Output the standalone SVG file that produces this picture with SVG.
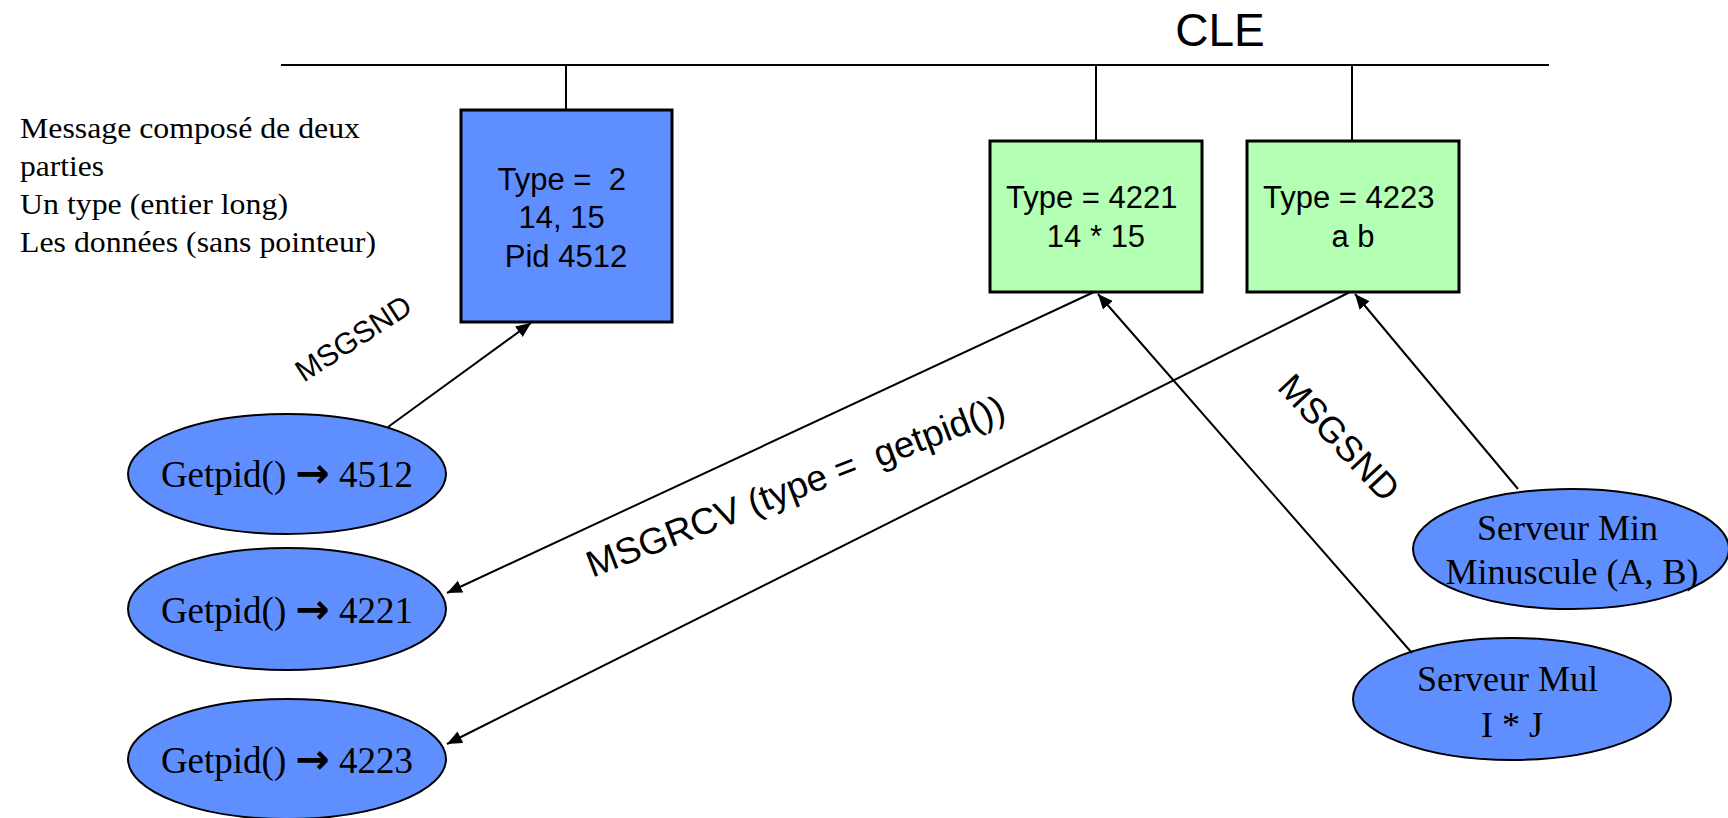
<svg xmlns="http://www.w3.org/2000/svg" width="1728" height="818" viewBox="0 0 1728 818">
  <style>
    .sans { font-family: "Liberation Sans", Arial, sans-serif; fill: #000; }
    .serif { font-family: "Liberation Serif", "Times New Roman", serif; fill: #000; }
    .box-blue { fill: #5F8FFF; stroke: #000; stroke-width: 3; }
    .box-green { fill: #B3FFB3; stroke: #000; stroke-width: 3; }
    .proc { fill: #5F8FFF; stroke: #000; stroke-width: 2; }
    .bus { stroke: #000; stroke-width: 2; fill: none; }
    .edge { stroke: #000; stroke-width: 2; fill: none; marker-end: url(#arrow); }
    .arr { font-family: "DejaVu Sans", sans-serif; font-weight: bold; }
  </style>
  <defs>
    <marker id="arrow" markerUnits="userSpaceOnUse" markerWidth="16" markerHeight="14" refX="15" refY="6.5" orient="auto">
      <path d="M0,0 L15,6.5 L0,13 z" fill="#000"/>
    </marker>
  </defs>

  <rect width="1728" height="818" fill="#fff"/>

  <!-- message queue key and its bus -->
  <g id="cle">
    <text class="sans" x="1220" y="46" font-size="46" text-anchor="middle">CLE</text>
    <line class="bus" x1="281" y1="65" x2="1549" y2="65"/>
    <line class="bus" x1="566" y1="65" x2="566" y2="110"/>
    <line class="bus" x1="1096" y1="65" x2="1096" y2="141"/>
    <line class="bus" x1="1352" y1="65" x2="1352" y2="141"/>
  </g>

  <!-- explanatory note -->
  <g id="note" class="serif" font-size="29">
    <text x="20" y="138" textLength="340" lengthAdjust="spacingAndGlyphs">Message composé de deux</text>
    <text x="20" y="176" textLength="84" lengthAdjust="spacingAndGlyphs">parties</text>
    <text x="20" y="214" textLength="268" lengthAdjust="spacingAndGlyphs">Un type (entier long)</text>
    <text x="20" y="252" textLength="356" lengthAdjust="spacingAndGlyphs">Les données (sans pointeur)</text>
  </g>

  <!-- messages in the queue -->
  <g id="msg-2">
    <rect class="box-blue" x="461" y="110" width="211" height="212"/>
    <text class="sans" font-size="31" text-anchor="middle" x="566">
      <tspan x="566" y="190" xml:space="preserve">Type =  2</tspan>
      <tspan x="566" y="228">14, 15</tspan>
      <tspan x="566" y="267">Pid 4512</tspan>
    </text>
  </g>
  <g id="msg-4221">
    <rect class="box-green" x="990" y="141" width="212" height="151"/>
    <text class="sans" font-size="31" text-anchor="middle">
      <tspan x="1096" y="208">Type = 4221</tspan>
      <tspan x="1096" y="247">14 * 15</tspan>
    </text>
  </g>
  <g id="msg-4223">
    <rect class="box-green" x="1247" y="141" width="212" height="151"/>
    <text class="sans" font-size="31" text-anchor="middle">
      <tspan x="1353" y="208">Type = 4223</tspan>
      <tspan x="1353" y="247">a b</tspan>
    </text>
  </g>

  <!-- client processes -->
  <g id="client-4512">
    <ellipse class="proc" cx="287" cy="474" rx="159" ry="60"/>
    <text class="serif" x="287" y="487" font-size="37" text-anchor="middle">Getpid() <tspan class="arr" font-size="41">→</tspan> 4512</text>
  </g>
  <g id="client-4221">
    <ellipse class="proc" cx="287" cy="609" rx="159" ry="61"/>
    <text class="serif" x="287" y="623" font-size="37" text-anchor="middle">Getpid() <tspan class="arr" font-size="41">→</tspan> 4221</text>
  </g>
  <g id="client-4223">
    <ellipse class="proc" cx="287" cy="759" rx="159" ry="60"/>
    <text class="serif" x="287" y="773" font-size="37" text-anchor="middle">Getpid() <tspan class="arr" font-size="41">→</tspan> 4223</text>
  </g>

  <!-- servers -->
  <g id="serveur-min">
    <ellipse class="proc" cx="1571" cy="549" rx="158" ry="60"/>
    <text class="serif" font-size="36" text-anchor="middle">
      <tspan x="1572" y="540">Serveur Min</tspan>
      <tspan x="1572" y="584">Minuscule (A, B)</tspan>
    </text>
  </g>
  <g id="serveur-mul">
    <ellipse class="proc" cx="1512" cy="699" rx="159" ry="61"/>
    <text class="serif" font-size="36" text-anchor="middle">
      <tspan x="1512" y="691">Serveur Mul</tspan>
      <tspan x="1512" y="737">I * J</tspan>
    </text>
  </g>

  <!-- connectors -->
  <g id="connectors">
    <line class="edge" x1="388" y1="427" x2="531" y2="323"/>
    <line class="edge" x1="1094" y1="292" x2="447" y2="593"/>
    <line class="edge" x1="1350" y1="292" x2="447" y2="744"/>
    <line class="edge" x1="1412" y1="653" x2="1098" y2="294"/>
    <line class="edge" x1="1518" y1="489" x2="1355" y2="294"/>
    <text class="sans" font-size="30" text-anchor="middle" transform="translate(359,347) rotate(-33)">MSGSND</text>
    <text class="sans" font-size="37" text-anchor="middle" transform="translate(800,498) rotate(-21)" xml:space="preserve">MSGRCV (type =  getpid())</text>
    <text class="sans" font-size="36" text-anchor="middle" transform="translate(1330,446) rotate(47)">MSGSND</text>
  </g>
</svg>
